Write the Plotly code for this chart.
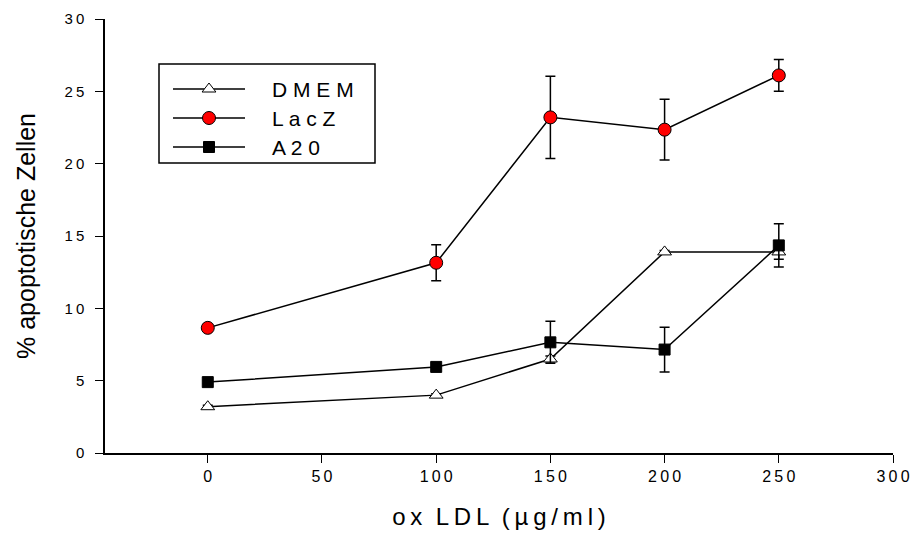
import plotly.graph_objects as go

# ox LDL concentration (µg/ml)
ox_ldl = [0, 100, 150, 200, 250]

# % apoptotic cells, mean and error per group
dmem = [3.2, 4.0, 6.5, 13.9, 13.9]
dmem_err = [0.1, 0.1, 0.2, 0.1, 0.5]
lacz = [8.65, 13.15, 23.2, 22.35, 26.1]
lacz_err = [0.1, 1.25, 2.85, 2.1, 1.1]
a20 = [4.9, 5.95, 7.65, 7.15, 14.35]
a20_err = [0.1, 0.1, 1.45, 1.55, 1.5]

series_names = ["DMEM", "LacZ", "A20"]
x_ticks = [0, 50, 100, 150, 200, 250, 300]
y_ticks = [0, 5, 10, 15, 20, 25, 30]

TS = "\u2009"  # thin space used for the wide letter tracking
NARROW = "Liberation Sans Narrow, Arial Narrow, Liberation Sans, Arial"


def spaced(s, sep=TS):
    return sep.join(list(s))


W, H = 913, 533
L, R, T, B = 105, 20, 19, 80

styles = {
    "DMEM": dict(symbol="triangle-up", color="white", size=12),
    "LacZ": dict(symbol="circle", color="#ff0000", size=13),
    "A20": dict(symbol="square", color="black", size=11),
}
values = {"DMEM": (dmem, dmem_err), "LacZ": (lacz, lacz_err), "A20": (a20, a20_err)}

fig = go.Figure()
for name in series_names:
    y, e = values[name]
    st = styles[name]
    fig.add_trace(go.Scatter(
        x=ox_ldl, y=y, mode="lines+markers", name=name, showlegend=False,
        line=dict(color="black", width=1.5),
        marker=dict(symbol=st["symbol"], size=st["size"], color=st["color"],
                    line=dict(color="black", width=1)),
        error_y=dict(type="data", array=e, visible=True, color="black",
                     thickness=1.5, width=5),
        cliponaxis=False,
    ))

# Legend drawn on a pixel-coordinate overlay axis
lx0, lx1, ly0, ly1 = 159, 375, 64, 163
rows_y = [89, 118, 147]
fig.add_shape(type="rect", xref="x2", yref="y2", x0=lx0, x1=lx1, y0=ly0, y1=ly1,
              line=dict(color="black", width=1.5), fillcolor="white", layer="below")
for name, ry in zip(series_names, rows_y):
    st = styles[name]
    fig.add_trace(go.Scatter(
        x=[173, 245], y=[ry, ry], xaxis="x2", yaxis="y2", mode="lines",
        line=dict(color="black", width=1.5), showlegend=False, hoverinfo="skip"))
    fig.add_trace(go.Scatter(
        x=[209], y=[ry], xaxis="x2", yaxis="y2", mode="markers", showlegend=False,
        marker=dict(symbol=st["symbol"], size=st["size"], color=st["color"],
                    line=dict(color="black", width=1)), hoverinfo="skip"))
    fig.add_annotation(x=270, y=ry, xref="x2", yref="y2", text=spaced(name, " "),
                       showarrow=False, xanchor="left", yanchor="middle",
                       font=dict(size=21, color="black",
                                 family="Liberation Sans, Arial, sans-serif"))

fig.update_layout(
    width=W, height=H,
    margin=dict(l=L, r=R, t=T, b=B, autoexpand=False),
    paper_bgcolor="white", plot_bgcolor="white",
    font=dict(family="Liberation Sans, Arial, sans-serif", color="black"),
    xaxis=dict(
        range=[-45, 300], tickvals=x_ticks, ticktext=[spaced(str(v)) for v in x_ticks],
        ticks="outside", ticklen=8, tickwidth=1, tickcolor="black",
        showline=True, linecolor="black", linewidth=1.5, showgrid=False,
        zeroline=False, tickfont=dict(size=16, family=NARROW), automargin=False,
        title=dict(text=spaced("ox") + "  " + spaced("LDL") + "  " + spaced("(µg/ml)"),
                   font=dict(size=24, family=NARROW), standoff=24),
    ),
    yaxis=dict(
        range=[0, 30], tickvals=y_ticks, ticktext=[spaced(str(v)) for v in y_ticks],
        ticks="outside", ticklen=8, tickwidth=1, tickcolor="black",
        showline=True, linecolor="black", linewidth=1.5, showgrid=False,
        zeroline=False, tickfont=dict(size=15), ticklabelstandoff=8, automargin=False,
        title=dict(text="% apoptotische Zellen", font=dict(size=25), standoff=22),
    ),
    xaxis2=dict(range=[L, W - R], overlaying="x", visible=False, fixedrange=True),
    yaxis2=dict(range=[H - B, T], overlaying="y", visible=False, fixedrange=True),
)

fig.write_html("out.html")
